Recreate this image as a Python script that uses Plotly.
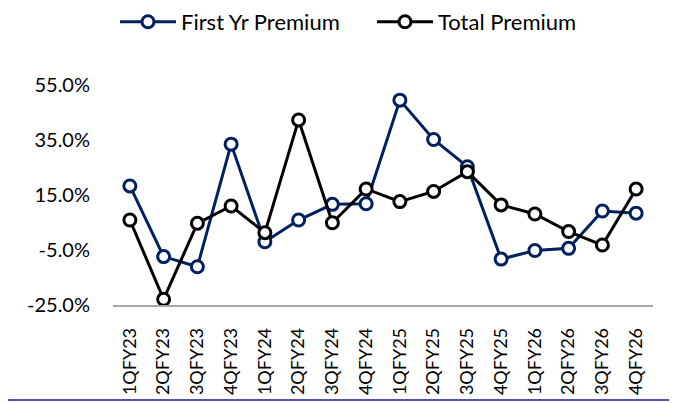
import plotly.graph_objects as go

quarters = ['1QFY23', '2QFY23', '3QFY23', '4QFY23', '1QFY24', '2QFY24', '3QFY24', '4QFY24',
            '1QFY25', '2QFY25', '3QFY25', '4QFY25', '1QFY26', '2QFY26', '3QFY26', '4QFY26']
first_yr_premium = [18.3, -7.4, -11.1, 33.5, -2.0, 5.9, 11.6, 11.8,
                    49.5, 35.2, 25.3, -8.3, -5.2, -4.4, 9.2, 8.4]
total_premium = [5.9, -22.9, 4.7, 11.0, 1.3, 42.3, 4.9, 17.2,
                 12.6, 16.3, 23.5, 11.4, 8.1, 1.7, -3.2, 17.2]
y_ticks = [-25, -5, 15, 35, 55]

FONT = 'Lato'


def add_series(fig, name, values, color):
    fig.add_trace(go.Scatter(
        x=quarters, y=values, name=name, mode='lines+markers',
        line=dict(color=color, width=3),
        marker=dict(symbol='circle', size=12, color='white',
                    line=dict(color=color, width=3)),
        cliponaxis=False
    ))


fig = go.Figure()
add_series(fig, 'First Yr Premium', first_yr_premium, '#002060')
add_series(fig, 'Total Premium', total_premium, '#000000')

# page body has an 8px margin, so the figure is shifted by 8px
fig.update_layout(
    width=677, height=403,
    margin=dict(l=105, r=32, t=77, b=106, autoexpand=False),
    plot_bgcolor='white', paper_bgcolor='white',
    font=dict(family=FONT, size=20, color='#000000'),
    legend=dict(orientation='h', xref='container', yref='container',
                x=107 / 677, xanchor='left', y=1 - 14 / 403, yanchor='middle',
                font=dict(size=22), itemwidth=56, entrywidth=186,
                bgcolor='rgba(0,0,0,0)'),
    showlegend=True,
)
fig.update_xaxes(
    type='category', range=[-0.5, len(quarters) - 0.5], tickangle=-90,
    showgrid=False, showline=True,
    linecolor='#A6A6A6', linewidth=1.5, ticks='', ticklabelstandoff=14,
    tickfont=dict(size=18), automargin=False
)
fig.update_yaxes(
    range=[-25, 55], tickvals=y_ticks,
    ticktext=[f'{v:.1f}%' for v in y_ticks],
    showgrid=False, zeroline=False, showline=False, ticks='',
    ticklabelstandoff=22, tickfont=dict(size=20), automargin=False
)
# blue border line at the bottom of the picture
fig.add_shape(type='line', xref='paper', yref='paper',
              x0=-105 / 540, x1=572 / 540, y0=-95 / 220, y1=-95 / 220,
              line=dict(color='#1A1A9E', width=1.5))

fig.write_html("out.html")
